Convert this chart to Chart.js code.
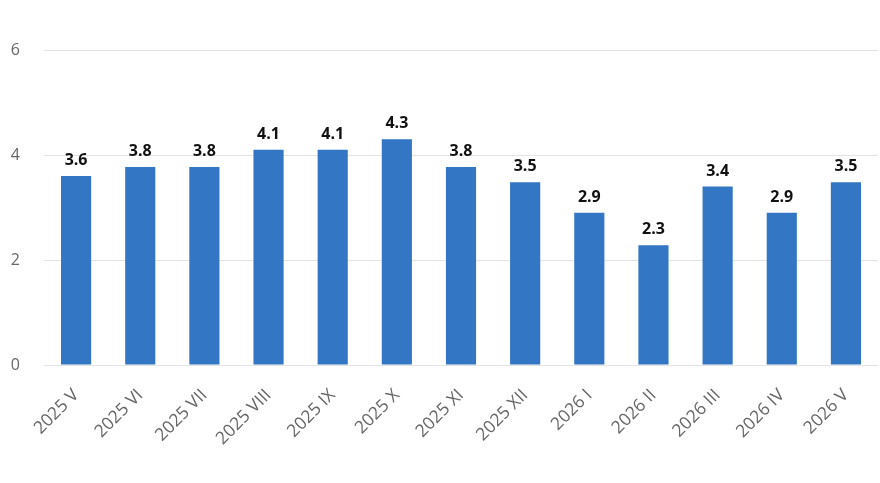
<!DOCTYPE html>
<html><head><meta charset="utf-8">
<script src="https://cdn.jsdelivr.net/npm/chart.js@4/dist/chart.umd.min.js"></script>
<style>html,body{margin:0;padding:0;background:#fff}#wrap{width:880px;height:483px}</style>
</head><body><div id="wrap"><canvas id="c" width="880" height="483"></canvas></div>
<script>
const categories = ["2025 V","2025 VI","2025 VII","2025 VIII","2025 IX","2025 X","2025 XI","2025 XII","2026 I","2026 II","2026 III","2026 IV","2026 V"];
const values = [3.6,3.77,3.77,4.1,4.1,4.3,3.77,3.48,2.9,2.28,3.4,2.9,3.48];
const yTicks = [0,2,4,6];

const valueLabels = {
  id:'valueLabels',
  afterDatasetsDraw(chart){
    const ctx = chart.ctx;
    const meta = chart.getDatasetMeta(0);
    ctx.save();
    ctx.font = "bold 16px 'Open Sans'";
    ctx.fillStyle = '#111';
    ctx.textAlign = 'center';
    ctx.textBaseline = 'alphabetic';
    meta.data.forEach((bar,i)=>{
      ctx.fillText(values[i].toFixed(1), bar.x, bar.y - 11);
    });
    ctx.restore();
  }
};

new Chart(document.getElementById('c'),{
  type:'bar',
  data:{labels:categories,datasets:[{data:values,backgroundColor:'#3276C4',barPercentage:0.47,categoryPercentage:1}]},
  options:{
    responsive:false,animation:false,
    layout:{padding:{left:0,right:2,top:50,bottom:0}},
    plugins:{legend:{display:false},tooltip:{enabled:false}},
    scales:{
      x:{grid:{display:false},border:{display:false},
        afterFit(s){s.height=118;},
        ticks:{color:'#666',font:{family:"'Open Sans'",size:17.5},maxRotation:45,minRotation:45,padding:12}},
      y:{min:0,max:6,afterBuildTicks(s){s.ticks=yTicks.map(v=>({value:v}));},
        afterFit(s){s.width=44;},
        grid:{color:'#e3e3e3',drawTicks:false},border:{display:false},
        ticks:{color:'#666',font:{family:"'Open Sans'",size:16},padding:24}}
    }
  },
  plugins:[valueLabels]
});
</script></body></html>
